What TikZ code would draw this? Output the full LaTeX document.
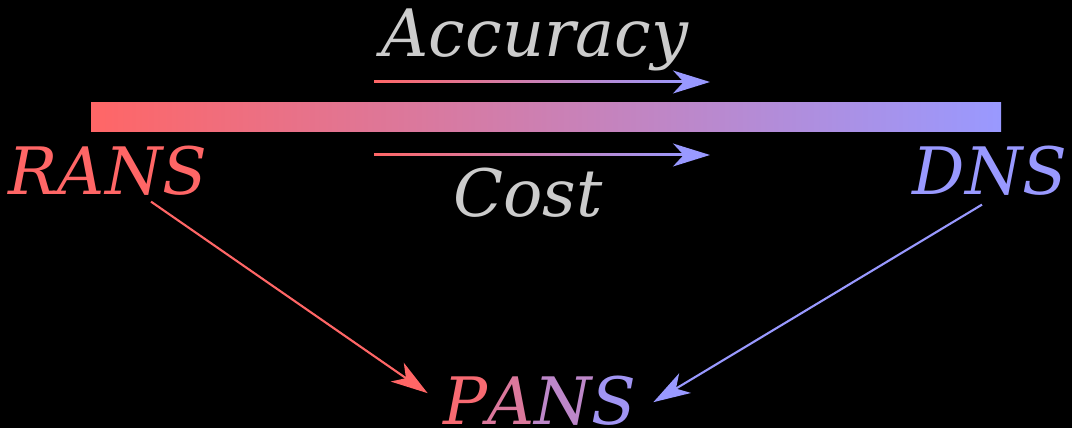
\documentclass[tikz,border=0pt]{standalone}
\usepackage{fontspec}
\setmainfont{DejaVu Serif}
\usetikzlibrary{arrows.meta,calc}

\definecolor{ransred}{HTML}{FF6666}
\definecolor{dnsblue}{HTML}{9999FF}
\definecolor{labelgray}{HTML}{CCCCCC}

\tikzset{
    model/.style={inner sep=0pt, anchor=base, font=\fontsize{18.6}{22}\selectfont\itshape},
    tip/.style={-{Stealth[length=10.5pt, width=6.5pt, inset=3pt]}, line width=0.6pt},
}

\begin{document}
\begin{tikzpicture}[x=0.01cm, y=-0.01cm]
                \fill[black] (0, 0) rectangle (1072, 428);
                \useasboundingbox (0, 0) rectangle (1072, 428);

                \shade[left color=ransred, right color=dnsblue] (91, 103) rectangle (1001, 132);

                \node[model, labelgray] (accuracy) at (535, 57) {Accuracy};
                \node[model, labelgray] (cost) at (528, 217) {Cost};
                \node[model, ransred] (rans) at (108, 195) {RANS};
                \node[model, dnsblue] (dns) at (990, 195) {DNS};
                \node[model] (pans) at (540, 425) {\color{ransred!92!dnsblue}P\color{ransred!65!dnsblue}A\color{ransred!35!dnsblue}N\color{ransred!8!dnsblue}S};

                \coordinate (acc start) at (374, 82);
                \coordinate (acc end) at (710, 82);
                \coordinate (cost start) at (374, 155);
                \coordinate (cost end) at (710, 155);

                \shade[left color=ransred, right color=dnsblue] ($(acc start)+(0, -1)$) rectangle ($(acc end)+(-20, 1)$);
                \draw[tip, dnsblue] ($(acc end)+(-22, 0)$) -- (acc end);
                \shade[left color=ransred, right color=dnsblue] ($(cost start)+(0, -1)$) rectangle ($(cost end)+(-20, 1)$);
                \draw[tip, dnsblue] ($(cost end)+(-22, 0)$) -- (cost end);

                \draw[tip, ransred] ($(rans.south)+(43, 5)$) -- ($(pans.west)+(-15, -8)$);
                \draw[tip, dnsblue] ($(dns.south)+(-8, 8)$) -- ($(pans.east)+(16, 1)$);

            \end{tikzpicture}
\end{document}
